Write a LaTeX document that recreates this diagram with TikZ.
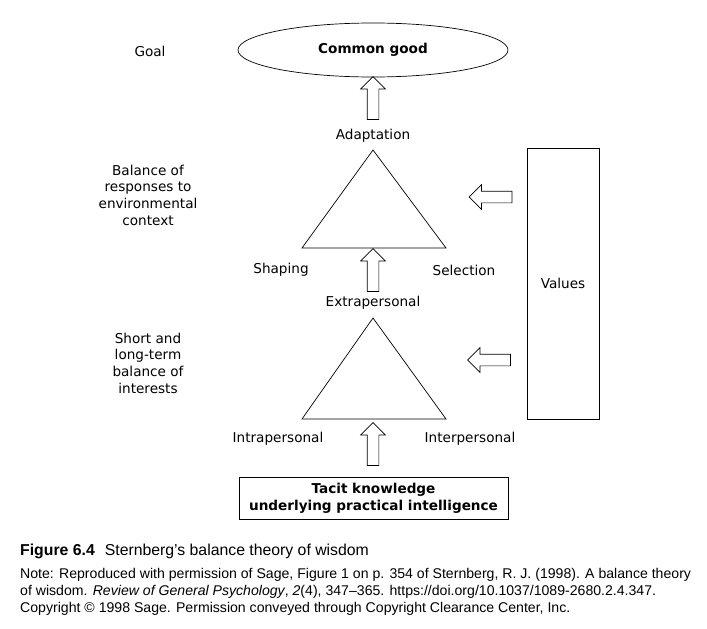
\documentclass[tikz,border=0pt]{standalone}
\usepackage{fontspec}
\setmainfont{DejaVu Sans}
\newfontfamily\capfont[Ligatures=TeX]{Liberation Sans}
\usepackage{tikz}
\usetikzlibrary{shapes.geometric,shapes.arrows}

\begin{document}
\begin{tikzpicture}[x=1pt,y=-1pt,
	lbl/.style={font=\fontsize{13.6}{16.7}\selectfont, inner sep=0pt, align=center},
	boldlbl/.style={font=\fontsize{13.6}{16.7}\selectfont\bfseries, inner sep=0pt, align=center},
	fatarrow/.style={single arrow, draw, line width=0.7pt, minimum height=43pt,
		single arrow head extend=6.5pt, single arrow head indent=0pt,
		inner xsep=0pt, inner ysep=5.5pt, text height=0pt, text depth=0pt},
	capline/.style={font=\capfont\fontsize{14.1}{17}\selectfont, inner sep=0pt, align=left, anchor=base west}]
	\useasboundingbox (0,0) rectangle (707,629);
	% 目标
	\node[lbl] (goal) at (150,51) {Goal};
	\node[ellipse, draw, line width=0.7pt, minimum width=270pt, minimum height=54pt, boldlbl] (good) at (373,50) {Common good};
	% 上面的三角形
	\coordinate (ta) at (373,150);
	\coordinate (tl) at (302,248);
	\coordinate (tr) at (446,248);
	\draw[line width=0.7pt] (ta) -- (tl) -- (tr) -- cycle;
	\node[lbl] (adapt) at (373,136) {Adaptation};
	\node[lbl] (shape) at (281,270) {Shaping};
	\node[lbl] (select) at (464,270) {Selection};
	\node[lbl] (envir) at (148,195) {Balance of\\responses to\\environmental\\context};
	% 下面的三角形
	\coordinate (ba) at (373,318);
	\coordinate (bl) at (302,419);
	\coordinate (br) at (446,419);
	\draw[line width=0.7pt] (ba) -- (bl) -- (br) -- cycle;
	\node[lbl] (extra) at (373,303) {Extrapersonal};
	\node[lbl] (intra) at (278,439) {Intrapersonal};
	\node[lbl] (inter) at (470,439) {Interpersonal};
	\node[lbl] (interests) at (148,363) {Short and\\long-term\\balance of\\interests};
	% 底部方框
	\node[draw, line width=0.9pt, minimum width=269pt, minimum height=42pt, boldlbl] (tacit) at (373.5,498) {Tacit knowledge\\underlying practical intelligence};
	% 价值方框
	\node[draw, line width=0.9pt, minimum width=72pt, minimum height=271pt, lbl] (values) at (563,283.5) {Values};
	% 空心箭头
	\node[fatarrow, rotate=90] (up1) at (373,101) {};
	\node[fatarrow, rotate=90] (up2) at (373,273) {};
	\node[fatarrow, rotate=90] (up3) at (373,447) {};
	\node[fatarrow, rotate=180] (left1) at (493.5,197) {};
	\node[fatarrow, rotate=180] (left2) at (492,360) {};
	% 图注
	\node[capline, font=\capfont\fontsize{15.8}{17}\selectfont] (title) at (20,555) {\textbf{Figure 6.4}\hspace{10pt}Sternberg’s balance theory of wisdom};
	\node[capline] (note) at (20,612) {Note: Reproduced with permission of Sage, Figure 1 on p. 354 of Sternberg, R. J. (1998). A balance theory\\
		of wisdom. \textit{Review of General Psychology}, \textit{2}(4), 347–365. https://doi.org/10.1037/1089-2680.2.4.347.\\
		Copyright © 1998 Sage. Permission conveyed through Copyright Clearance Center, Inc.};
\end{tikzpicture}
\end{document}
